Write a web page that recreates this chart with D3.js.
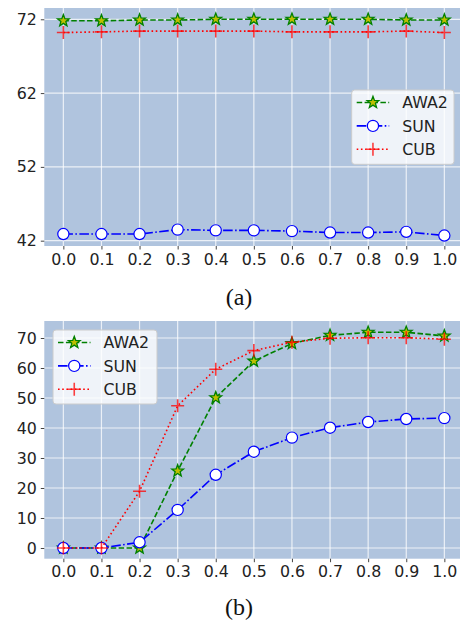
<!DOCTYPE html>
<html>
<head>
<meta charset="utf-8">
<script src="https://cdn.jsdelivr.net/npm/d3@7"></script>
<style>
  body { margin: 0; background: #fff; }
  svg { display: block; }
  .tick text { font-family: "DejaVu Sans", sans-serif; font-size: 15.8px; fill: #222; }
</style>
</head>
<body>
<div id="chart"></div>
<script>
// x values shared by both panels
const ratios = [0.0, 0.1, 0.2, 0.3, 0.4, 0.5, 0.6, 0.7, 0.8, 0.9, 1.0];
const xTickLabels = ["0.0", "0.1", "0.2", "0.3", "0.4", "0.5", "0.6", "0.7", "0.8", "0.9", "1.0"];

// panel (a)
const awa2A = [71.8, 71.8, 71.9, 71.9, 72.0, 72.0, 72.0, 72.0, 72.0, 71.9, 71.9];
const sunA  = [42.9, 42.9, 42.9, 43.5, 43.4, 43.4, 43.3, 43.1, 43.1, 43.2, 42.7];
const cubA  = [70.2, 70.3, 70.4, 70.4, 70.4, 70.4, 70.3, 70.3, 70.3, 70.4, 70.2];
const yTicksA = [42, 52, 62, 72];

// panel (b)
const awa2B = [0, 0, 0, 25.7, 50.1, 62.3, 68.2, 70.9, 71.9, 71.9, 70.7];
const sunB  = [0, 0, 1.9, 12.7, 24.4, 32.1, 36.8, 40.1, 42.0, 43.0, 43.3];
const cubB  = [0, 0, 18.9, 47.4, 59.6, 65.8, 68.6, 69.9, 70.1, 70.1, 69.6];
const yTicksB = [0, 10, 20, 30, 40, 50, 60, 70];

const seriesNames = ["AWA2", "SUN", "CUB"];

const W = 460, H = 624;
const svg = d3.select("#chart").append("svg")
    .attr("width", W)
    .attr("height", H);

// matplotlib-like styles
const styles = {
    AWA2: { color: "green", dash: "5.5,2.4", width: 1.6, marker: "star" },
    SUN:  { color: "blue", dash: "9.6,2.4,1.6,2.4", width: 1.6, marker: "circle" },
    CUB:  { color: "red", dash: "1.6,2.6", width: 1.6, marker: "plus" }
};

function starPath(r) {
    const inner = r * 0.42;
    let p = [];
    for (let i = 0; i < 10; i++) {
        const rr = i % 2 === 0 ? r : inner;
        const a = -Math.PI / 2 + i * Math.PI / 5;
        p.push([rr * Math.cos(a), rr * Math.sin(a)]);
    }
    return "M" + p.map(d => d[0].toFixed(2) + "," + d[1].toFixed(2)).join("L") + "Z";
}

function drawMarker(g, type, x, y) {
    if (type === "star") {
        g.append("path")
            .attr("transform", `translate(${x},${y})`)
            .attr("d", starPath(6.2))
            .attr("fill", "#bfbf00")
            .attr("stroke", "green")
            .attr("stroke-width", 1.3)
            .attr("stroke-linejoin", "miter");
    } else if (type === "circle") {
        g.append("circle")
            .attr("cx", x).attr("cy", y).attr("r", 5.6)
            .attr("fill", "white")
            .attr("stroke", "blue")
            .attr("stroke-width", 1.2);
    } else {
        g.append("path")
            .attr("d", `M${x - 6.5},${y}H${x + 6.5}M${x},${y - 6.5}V${y + 6.5}`)
            .attr("stroke", "red")
            .attr("stroke-opacity", 0.75)
            .attr("stroke-width", 1.6);
    }
}

function drawPanel(opts) {
    const g = svg.append("g");
    const x = d3.scaleLinear().domain([-0.05, 1.05]).range([44.3, 463.4]);
    const y = d3.scaleLinear().domain(opts.yDomain).range([opts.bottom, opts.top]);

    // background
    g.append("rect")
        .attr("x", x.range()[0]).attr("y", opts.top)
        .attr("width", x.range()[1] - x.range()[0])
        .attr("height", opts.bottom - opts.top)
        .attr("fill", "lightsteelblue");

    // grid
    g.append("g").selectAll("line").data(ratios).join("line")
        .attr("x1", d => x(d)).attr("x2", d => x(d))
        .attr("y1", opts.top).attr("y2", opts.bottom)
        .attr("stroke", "white").attr("stroke-opacity", 0.75).attr("stroke-width", 1.2);
    g.append("g").selectAll("line").data(opts.yTicks).join("line")
        .attr("x1", x.range()[0]).attr("x2", x.range()[1])
        .attr("y1", d => y(d)).attr("y2", d => y(d))
        .attr("stroke", "white").attr("stroke-opacity", 0.75).attr("stroke-width", 1.2);

    // axes
    const xAxis = g.append("g")
        .attr("transform", `translate(0,${opts.bottom})`)
        .call(d3.axisBottom(x).tickValues(ratios).tickFormat((d, i) => xTickLabels[i])
            .tickSize(3.5).tickPadding(4));
    const yAxis = g.append("g")
        .attr("transform", `translate(${x.range()[0]},0)`)
        .call(d3.axisLeft(y).tickValues(opts.yTicks).tickSize(3.5).tickPadding(4));
    [xAxis, yAxis].forEach(a => {
        a.select(".domain").remove();
        a.selectAll(".tick line").attr("stroke", "#444").attr("stroke-width", 1);
    });

    // series
    const line = d3.line().x((d, i) => x(ratios[i])).y(d => y(d));
    opts.series.forEach((vals, k) => {
        const st = styles[seriesNames[k]];
        const sg = g.append("g");
        sg.append("path")
            .attr("d", line(vals))
            .attr("fill", "none")
            .attr("stroke", st.color)
            .attr("stroke-width", st.width)
            .attr("stroke-dasharray", st.dash);
        vals.forEach((v, i) => drawMarker(sg, st.marker, x(ratios[i]), y(v)));
    });

    // legend
    const lg = g.append("g");
    lg.append("rect")
        .attr("x", opts.legend.x).attr("y", opts.legend.y)
        .attr("width", opts.legend.w).attr("height", opts.legend.h)
        .attr("rx", 3)
        .attr("fill", "white").attr("fill-opacity", 0.8)
        .attr("stroke", "#ccc").attr("stroke-width", 1);
    seriesNames.forEach((name, k) => {
        const st = styles[name];
        const ly = opts.legend.y + 12.5 + k * 23.4;
        const lx0 = opts.legend.x + 5, lx1 = opts.legend.x + 37.5;
        lg.append("path")
            .attr("d", `M${lx0},${ly}H${lx1}`)
            .attr("stroke", st.color).attr("stroke-width", st.width)
            .attr("stroke-dasharray", st.dash);
        drawMarker(lg, st.marker, (lx0 + lx1) / 2, ly);
        lg.append("text")
            .attr("x", opts.legend.x + 50.5).attr("y", ly)
            .attr("dy", "0.36em")
            .attr("font-family", "DejaVu Sans, sans-serif")
            .attr("font-size", 15.8)
            .attr("fill", "#222")
            .text(name);
    });

    // panel caption
    g.append("text")
        .attr("x", 239).attr("y", opts.captionY)
        .attr("text-anchor", "middle")
        .attr("font-family", "Liberation Serif, serif")
        .attr("font-size", 24)
        .attr("fill", "#111")
        .text(opts.caption);
}

drawPanel({
    top: 8, bottom: 246,
    yDomain: [41.28, 73.53],
    yTicks: yTicksA,
    series: [awa2A, sunA, cubA],
    legend: { x: 351.7, y: 90, w: 102.3, h: 74.3 },
    caption: "(a)", captionY: 305
});

drawPanel({
    top: 321, bottom: 558.7,
    yDomain: [-3.57, 75.67],
    yTicks: yTicksB,
    series: [awa2B, sunB, cubB],
    legend: { x: 53, y: 330, w: 104, h: 74 },
    caption: "(b)", captionY: 615
});
</script>
</body>
</html>
